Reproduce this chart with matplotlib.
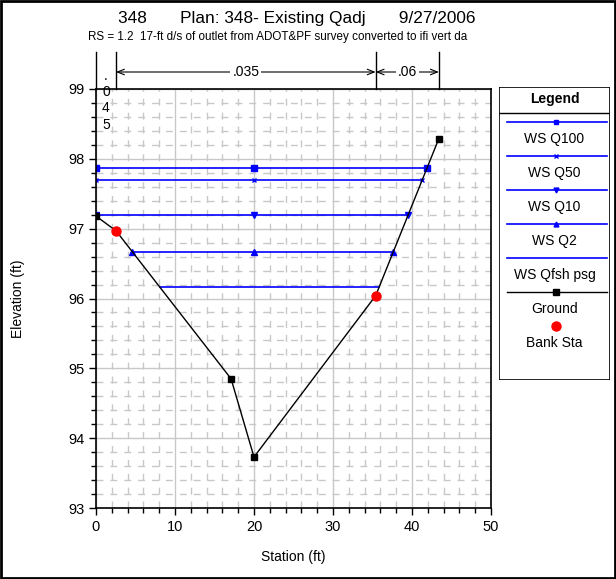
import numpy as np
import matplotlib
matplotlib.use("Agg")
import matplotlib.pyplot as plt
from matplotlib.patches import Rectangle
from matplotlib.transforms import blended_transform_factory
from matplotlib.ticker import MultipleLocator

plt.rcParams['font.family'] = ['Liberation Sans', 'DejaVu Sans']

# ground profile
ground_sta = [0.0, 2.53, 17.1, 20.0, 35.4, 43.4]
ground_elev = [97.18, 96.97, 94.85, 93.73, 96.04, 98.29]
bank_sta = [2.53, 35.4]
bank_elev = [96.97, 96.04]

# water surfaces
ws_names = ["WS Q100", "WS Q50", "WS Q10", "WS Q2", "WS Qfsh psg"]
ws_elev = [97.87, 97.69, 97.19, 96.67, 96.16]
ws_left = [0.0, 0.0, 0.0, 4.6, 8.1]
ws_right = [41.9, 41.3, 39.5, 37.6, 35.8]
ws_mid = 20.0
ws_markers = ['s', 'x', 'v', '^', None]

# manning n values
n_breaks = [0.0, 2.53, 35.4, 43.4]
n_values = [".045", ".035", ".06"]

title = "348       Plan: 348- Existing Qadj       9/27/2006"
subtitle = "RS = 1.2  17-ft d/s of outlet from ADOT&PF survey converted to ifi vert da"

blue = '#0000FF'
W, H = 616, 579
fig = plt.figure(figsize=(W / 100, H / 100), dpi=100)
ax = fig.add_axes([96 / W, 1 - 508 / H, (491 - 96) / W, (508 - 89) / H])

ax.set_xlim(0, 50)
ax.set_ylim(93, 99)
ax.xaxis.set_major_locator(MultipleLocator(10))
ax.xaxis.set_minor_locator(MultipleLocator(2))
ax.yaxis.set_major_locator(MultipleLocator(1))
ax.yaxis.set_minor_locator(MultipleLocator(0.2))
ax.grid(which='major', color='#c8c8c8', lw=1.0, ls='-')
ax.grid(which='minor', color='#c8c8c8', lw=1.0, ls=(0, (5, 5)))
ax.set_axisbelow(True)
ax.tick_params(which='major', length=5, width=1, labelsize=10.5, direction='out')
ax.tick_params(which='minor', length=3.5, width=1, direction='out')
for sp in ax.spines.values():
    sp.set_linewidth(1.2)

for i in range(len(ws_names)):
    if ws_markers[i] is None:
        ax.plot([ws_left[i], ws_right[i]], [ws_elev[i]] * 2, color=blue, lw=1.2)
    else:
        xs = [ws_left[i], ws_mid, ws_right[i]]
        ax.plot(xs, [ws_elev[i]] * 3, color=blue, lw=1.2, marker=ws_markers[i],
                ms=4.5 if ws_markers[i] != 'x' else 3.5, mew=1.0)

ax.plot(ground_sta, ground_elev, color='k', lw=1.0, marker='s', ms=3.8, zorder=4)
ax.plot(bank_sta, bank_elev, ls='none', marker='o', color='red', ms=6.5, zorder=5)

ax.set_xlabel("Station (ft)", fontsize=10)
ax.set_ylabel("Elevation (ft)", fontsize=10)
ax.xaxis.set_label_coords(0.5, (508 - 557) / 419)
ax.xaxis.label.set_va('center')
ax.yaxis.set_label_coords((18 - 96) / 395, 0.5)
ax.yaxis.label.set_va('center')

# n-value bar above the plot
trans = blended_transform_factory(ax.transData, ax.transAxes)
top = 1 + 37 / 419
ya = 1 + 17 / 419
for b in n_breaks:
    ax.plot([b, b], [1, top], transform=trans, color='k', lw=1.0, clip_on=False)
for i in range(len(n_values)):
    x0, x1 = n_breaks[i], n_breaks[i + 1]
    if x1 - x0 < 5:
        ax.text((x0 + x1) / 2, 1 + 20 / 419, "\n".join(n_values[i]), transform=trans,
                ha='center', va='top', fontsize=10, linespacing=1.2)
        continue
    ax.annotate('', xy=(x1, ya), xytext=(x0, ya), xycoords=trans, textcoords=trans,
                arrowprops=dict(arrowstyle='<->,head_length=0.5,head_width=0.2',
                                lw=0.8, color='k', shrinkA=0, shrinkB=0), annotation_clip=False)
    ax.text((x0 + x1) / 2, ya, n_values[i], transform=trans, ha='center', va='center',
            fontsize=10, bbox=dict(facecolor='white', edgecolor='none', pad=1.5))

# titles, sized to the reference width
renderer = fig.canvas.get_renderer()
t1 = fig.text(118 / W, 1 - 18 / H, title, ha='left', va='center', fontsize=12.5)
t2 = fig.text(88 / W, 1 - 37 / H, subtitle, ha='left', va='center', fontsize=8.3)
for t, target in [(t1, 360), (t2, 380)]:
    w = t.get_window_extent(renderer).width
    t.set_fontsize(t.get_fontsize() * target / w)

# legend panel
lax = fig.add_axes([499 / W, 1 - 380 / H, 111 / W, 293 / H])
lax.set_xlim(0, 111)
lax.set_ylim(293, 0)
lax.axis('off')
lax.add_patch(Rectangle((0, 0), 111, 293, fill=False, ec='k', lw=1.2))
lax.text(55.5, 12, "Legend", ha='center', va='center', fontsize=10, fontweight='bold')
lax.plot([0, 111], [26, 26], color='k', lw=1.0)
leg_names = ws_names + ["Ground", "Bank Sta"]
for i, name in enumerate(leg_names):
    y = 35 + 34 * i
    if i < len(ws_names):
        lax.plot([8, 108], [y, y], color=blue, lw=1.2)
        if ws_markers[i] is not None:
            lax.plot([57], [y], color=blue, marker=ws_markers[i],
                     ms=3.5 if ws_markers[i] != 'x' else 3, mew=1.0)
    elif name == "Ground":
        lax.plot([8, 108], [y, y], color='k', lw=1.0)
        lax.plot([57], [y], color='k', marker='s', ms=3.8)
    else:
        lax.plot([57], [y], color='red', marker='o', ms=6.5)
    lax.text(55.5, y + 17, name, ha='center', va='center', fontsize=10)

# outer frame
fig.add_artist(Rectangle((0.0015, 0.0015), 0.997, 0.997, transform=fig.transFigure,
                         fill=False, ec='k', lw=2))

fig.savefig("out.png", dpi=100)
